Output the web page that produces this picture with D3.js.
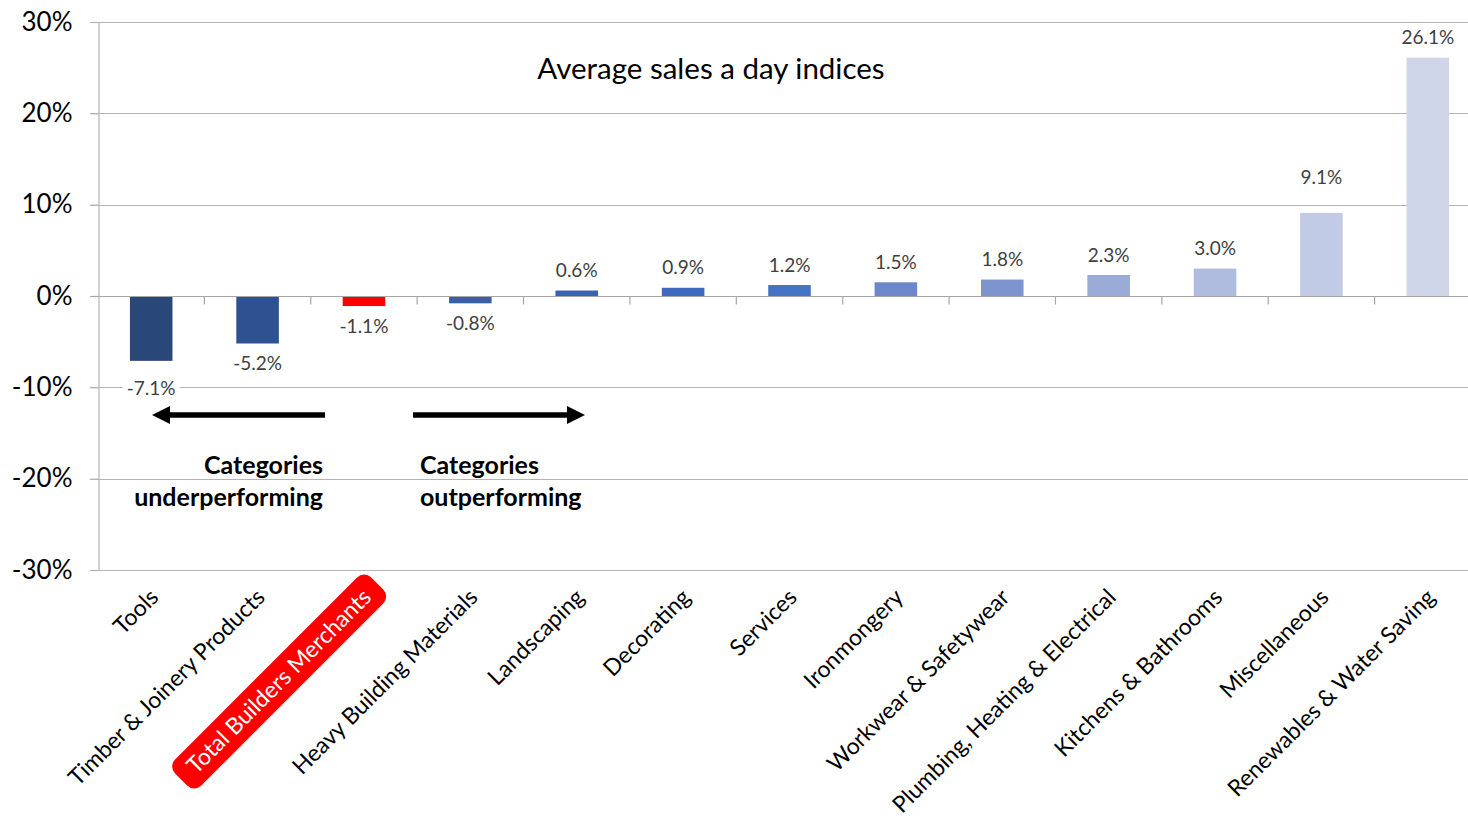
<!DOCTYPE html>
<html>
<head>
<meta charset="utf-8">
<script src="https://cdn.jsdelivr.net/npm/d3@7"></script>
<style>
  html, body { margin: 0; padding: 0; background: #fff; }
  svg { display: block; font-family: Lato, "Open Sans", sans-serif; }
</style>
</head>
<body>
<svg id="chart" width="1468" height="821"></svg>
<script>
// Average sales a day indices by category (% change)
const categories = [
  "Tools", "Timber & Joinery Products", "Total Builders Merchants",
  "Heavy Building Materials", "Landscaping", "Decorating", "Services",
  "Ironmongery", "Workwear & Safetywear", "Plumbing, Heating & Electrical",
  "Kitchens & Bathrooms", "Miscellaneous", "Renewables & Water Saving"
];
const values = [-7.1, -5.2, -1.1, -0.8, 0.6, 0.9, 1.2, 1.5, 1.8, 2.3, 3.0, 9.1, 26.1];
const yTicks = [-30, -20, -10, 0, 10, 20, 30];
const totalCategory = "Total Builders Merchants";

// Bar fills, dark to light blue in category order
const barColors = [
  "#2a4779", "#2e5291", "#ff0000", "#3b5ea9", "#3a62b3", "#3f69bf", "#4472c4",
  "#6c88cb", "#7e94cf", "#9babd8", "#afbce0", "#c1cbe6", "#cfd6ea"
];
// Extra distance for a few value labels
const labelNudge = { "Tools": 7, "Miscellaneous": 16 };

const svg = d3.select("#chart");
const margin = { left: 98, right: -13, top: 22, bottom: 251 };
const W = 1468, H = 821;

const x = d3.scaleBand()
  .domain(categories)
  .range([margin.left, W - margin.right])
  .paddingInner(0.6)
  .paddingOuter(0.3);

const y = d3.scaleLinear()
  .domain([-30, 30])
  .range([H - margin.bottom, margin.top]);

const step = x.step();
const fmt = v => v.toFixed(1) + "%";

// Horizontal gridlines
svg.append("g")
  .selectAll("line")
  .data(yTicks.filter(t => t !== 0))
  .join("line")
  .attr("x1", margin.left - 8)
  .attr("x2", W)
  .attr("y1", d => Math.round(y(d)) + 0.5)
  .attr("y2", d => Math.round(y(d)) + 0.5)
  .attr("stroke", "#b4b4b4")
  .attr("stroke-width", 1.2);

// Vertical axis with outside ticks
const yAxis = svg.append("g")
  .attr("transform", `translate(${margin.left + 0.5},0)`)
  .call(d3.axisLeft(y).tickValues(yTicks).tickFormat(d => d + "%").tickSize(8).tickPadding(18));
yAxis.select(".domain").attr("stroke", "#b4b4b4").attr("stroke-width", 1.2);
yAxis.selectAll(".tick line").attr("stroke", "#b4b4b4").attr("stroke-width", 1.2);
yAxis.selectAll(".tick text")
  .attr("font-family", "Lato, sans-serif")
  .attr("font-size", 26)
  .attr("fill", "#000");

// Bars
svg.append("g")
  .selectAll("rect")
  .data(categories)
  .join("rect")
  .attr("x", d => x(d))
  .attr("width", x.bandwidth())
  .attr("y", (d, i) => y(Math.max(0, values[i])))
  .attr("height", (d, i) => Math.abs(y(values[i]) - y(0)))
  .attr("fill", (d, i) => barColors[i]);

// Zero line with category separators
const zeroY = Math.round(y(0)) + 0.5;
svg.append("line")
  .attr("x1", margin.left - 8).attr("x2", W)
  .attr("y1", zeroY).attr("y2", zeroY)
  .attr("stroke", "#a6a6a6").attr("stroke-width", 1.2);
svg.append("g")
  .selectAll("line")
  .data(categories.slice(1))
  .join("line")
  .attr("x1", d => x(d) + x.bandwidth() / 2 - step / 2)
  .attr("x2", d => x(d) + x.bandwidth() / 2 - step / 2)
  .attr("y1", zeroY)
  .attr("y2", zeroY + 8)
  .attr("stroke", "#a6a6a6").attr("stroke-width", 1.2);

// Value labels on white backing
const labels = svg.append("g")
  .selectAll("g")
  .data(categories)
  .join("g")
  .attr("transform", (d, i) => {
    const v = values[i];
    const off = 20 + (labelNudge[d] || 0);
    const cy = v >= 0 ? y(v) - off : y(v) + off;
    return `translate(${x(d) + x.bandwidth() / 2},${cy})`;
  });
labels.append("text")
  .attr("text-anchor", "middle")
  .attr("dy", "0.35em")
  .attr("font-size", 19)
  .attr("fill", "#404040")
  .text((d, i) => fmt(values[i]))
  .each(function () {
    const b = this.getBBox();
    d3.select(this.parentNode).insert("rect", "text")
      .attr("x", b.x - 4).attr("y", b.y - 1)
      .attr("width", b.width + 8).attr("height", b.height + 2)
      .attr("fill", "#fff");
  });

// Title
svg.append("text")
  .attr("x", 711).attr("y", 69)
  .attr("text-anchor", "middle")
  .attr("dy", "0.35em")
  .attr("font-size", 29.5)
  .attr("fill", "#000")
  .text("Average sales a day indices");

// Rotated category labels
const xl = svg.append("g")
  .selectAll("g")
  .data(categories)
  .join("g")
  .attr("transform", d => `translate(${x(d) + x.bandwidth() / 2 + 3},${H - margin.bottom + 23}) rotate(-45)`);
xl.each(function (d) {
  const g = d3.select(this);
  const isTotal = d === totalCategory;
  const t = g.append("text")
    .attr("text-anchor", "end")
    .attr("dy", "0.35em")
    .attr("font-size", 23)
    .attr("fill", isTotal ? "#fff" : "#000")
    .text(d);
  if (isTotal) {
    const b = t.node().getBBox();
    g.insert("rect", "text")
      .attr("x", b.x - 14).attr("y", -18)
      .attr("width", b.width + 28).attr("height", 37)
      .attr("rx", 10).attr("ry", 10)
      .attr("fill", "#ff0000");
  }
});

// Direction arrows
const arrowY = 415;
function arrow(x0, x1) {
  const dir = Math.sign(x1 - x0);
  const head = 18;
  svg.append("line")
    .attr("x1", x0).attr("x2", x1 - dir * head)
    .attr("y1", arrowY).attr("y2", arrowY)
    .attr("stroke", "#000").attr("stroke-width", 5.5);
  svg.append("path")
    .attr("d", `M${x1},${arrowY} L${x1 - dir * head},${arrowY - 9} L${x1 - dir * head},${arrowY + 9} Z`)
    .attr("fill", "#000");
}
arrow(325, 152);
arrow(413, 585);

// Arrow captions
const capUnder = svg.append("text")
  .attr("text-anchor", "end")
  .attr("font-size", 25).attr("font-weight", 700).attr("fill", "#000");
capUnder.append("tspan").attr("x", 323).attr("y", 474).text("Categories");
capUnder.append("tspan").attr("x", 323).attr("y", 506).text("underperforming");

const capOver = svg.append("text")
  .attr("text-anchor", "start")
  .attr("font-size", 25).attr("font-weight", 700).attr("fill", "#000");
capOver.append("tspan").attr("x", 420).attr("y", 474).text("Categories");
capOver.append("tspan").attr("x", 420).attr("y", 506).text("outperforming");
</script>
</body>
</html>
